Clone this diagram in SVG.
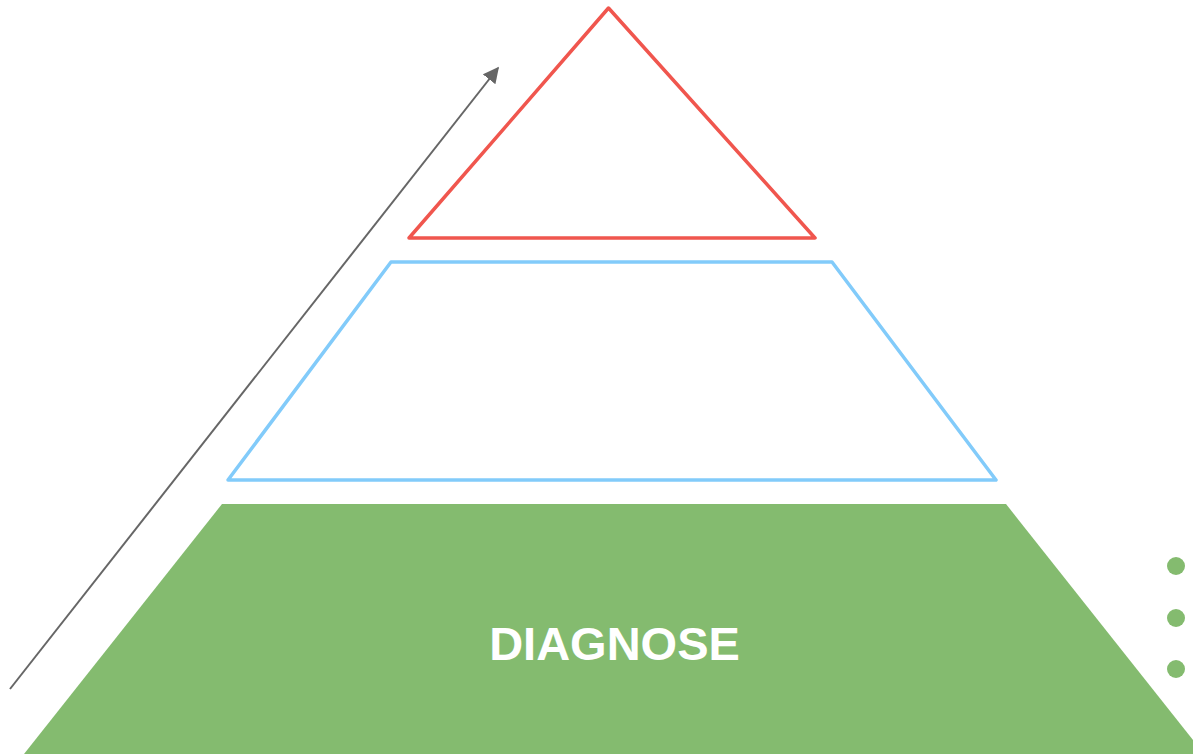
<svg xmlns="http://www.w3.org/2000/svg" width="1193" height="754" viewBox="0 0 1193 754">
<style>
.lvl-top{fill:none;stroke:#f0564e;stroke-width:3.5;stroke-linejoin:round}
.lvl-mid{fill:none;stroke:#82cbfa;stroke-width:3.5;stroke-linejoin:round}
.lvl-base{fill:#84bb6f}
.dot{fill:#84bb6f}
.label{font-family:"Liberation Sans",Arial,sans-serif;font-weight:bold;fill:#ffffff;text-anchor:middle}
.conn{stroke:#666666;stroke-width:2;fill:none}
</style>
<defs>
<marker id="ah" viewBox="0 0 10 10" refX="9" refY="5" markerWidth="8" markerHeight="8" orient="auto" markerUnits="strokeWidth">
<path d="M0,0 L10,5 L0,10 z" fill="#666666"/>
</marker>
</defs>
<rect width="1193" height="754" fill="#ffffff"/>
<g id="top">
<polygon class="lvl-top" points="608.5,8 815,238 409,238"/>
</g>
<g id="middle">
<polygon class="lvl-mid" points="391,262 832,262 996,480 228,480"/>
</g>
<g id="base">
<polygon class="lvl-base" points="222,504 1006,504 1204,754 24,754"/>
<text class="label" x="614.5" y="660" font-size="47">DIAGNOSE</text>
</g>
<g id="dots">
<circle class="dot" cx="1176" cy="566" r="9"/>
<circle class="dot" cx="1176" cy="618" r="9"/>
<circle class="dot" cx="1176" cy="669" r="9"/>
</g>
<g id="connectors">
<line class="conn" x1="10" y1="689" x2="498" y2="68" marker-end="url(#ah)"/>
</g>
</svg>
